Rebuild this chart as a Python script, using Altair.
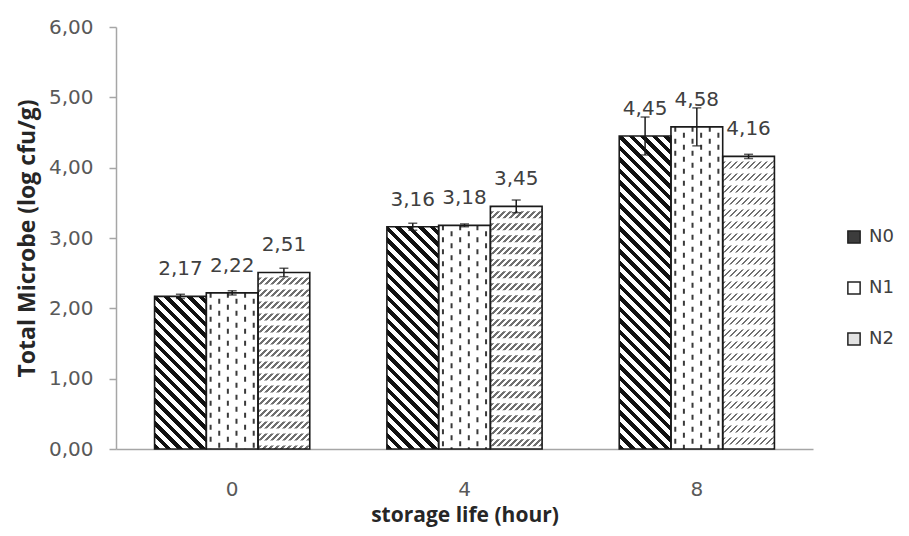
import altair as alt
import pandas as pd

# ---------------- data ----------------
times = ["0", "4", "8"]
series = ["N0", "N1", "N2"]
mean_N0 = [2.17, 3.16, 4.45]
mean_N1 = [2.22, 3.18, 4.58]
mean_N2 = [2.51, 3.45, 4.16]
err_N0 = [0.03, 0.05, 0.27]
err_N1 = [0.03, 0.02, 0.27]
err_N2 = [0.06, 0.09, 0.03]
y_ticks = [0, 1, 2, 3, 4, 5, 6]

rows = []
for s, m, e in [("N0", mean_N0, err_N0), ("N1", mean_N1, err_N1), ("N2", mean_N2, err_N2)]:
    for t, v, ee in zip(times, m, e):
        rows.append({"time": t, "series": s, "value": v, "err": ee})
df = pd.DataFrame(rows)

# ---------------- layout / style ----------------
W, H = 697, 422
Y_MAX = 6
P_INNER = 0.332
band = (W / len(times)) * (1 - P_INNER)
bar_w = band / len(series)

X = alt.X("time:N", sort=times,
          scale=alt.Scale(domain=times, paddingInner=P_INNER, paddingOuter=P_INNER / 2),
          axis=alt.Axis(labelAngle=0, ticks=False, domainColor="#a6a6a6", domainWidth=1.5,
                        labelFontSize=20, labelFont="DejaVu Sans", labelColor="#595959",
                        labelPadding=30, title="storage life (hour)", titleFont="Open Sans",
                        titleFontWeight="bold", titleFontSize=21, titleColor="#262626",
                        titlePadding=5))
XO = alt.XOffset("series:N", sort=series, scale=alt.Scale(domain=series, paddingInner=0, paddingOuter=0))
Y = alt.Y("value:Q", scale=alt.Scale(domain=[0, Y_MAX], nice=False),
          axis=alt.Axis(values=y_ticks, format=".2f", grid=False, domainColor="#a6a6a6",
                        domainWidth=1.5, tickColor="#a6a6a6", tickSize=7, tickWidth=1.5,
                        labelFontSize=20, labelFont="DejaVu Sans", labelColor="#595959",
                        labelPadding=16, title="Total Microbe  (log cfu/g)", titleFont="Open Sans",
                        titleFontWeight="bold", titleFontSize=23, titleColor="#262626",
                        titlePadding=9))

base = alt.Chart(df)


def stripe_gradient(value, period, frac, dark, light, direction):
    h = value / Y_MAX * H
    w = bar_w
    s = (w + h) / (w * w + h * h)
    n = (w + h) / period
    stops = []
    k = 0
    while k / n < 1:
        a = k / n
        b = min((k + frac) / n, 1.0)
        c = min((k + 1) / n, 1.0)
        stops += [{"offset": a, "color": dark}, {"offset": b, "color": dark},
                  {"offset": b, "color": light}, {"offset": c, "color": light}]
        k += 1
    if direction == "back":  # "\" stripes
        return {"gradient": "linear", "x1": 0, "y1": 1, "x2": s * w, "y2": 1 - s * h, "stops": stops}
    return {"gradient": "linear", "x1": 0, "y1": 0, "x2": s * w, "y2": s * h, "stops": stops}


# base bars (carry the legend)
layers = [
    base.mark_bar(strokeWidth=0).encode(
        x=X, xOffset=XO, y=Y,
        fill=alt.Fill("series:N", sort=series,
                      scale=alt.Scale(domain=series, range=["#3c3c3c", "#ffffff", "#e2e2e2"]),
                      legend=alt.Legend(title=None, orient="none", legendX=729, legendY=201,
                                        symbolType="square", symbolSize=150,
                                        symbolStrokeColor="#222222", symbolStrokeWidth=1.5,
                                        labelFontSize=18, labelFont="DejaVu Sans",
                                        labelColor="#404040", rowPadding=31, labelOffset=6,
                                        padding=0)))
]

# N0 diagonal stripes and N2 slashes (per bar, gradient fills)
for s, means, period, frac, dark, direction in [
    ("N0", mean_N0, 11.5, 0.48, "#111111", "back"),
    ("N2", mean_N2, 6.0, 0.42, "#707070", "fwd"),
]:
    for t, v in zip(times, means):
        layers.append(
            base.transform_filter((alt.datum.series == s) & (alt.datum.time == t))
            .mark_bar(strokeWidth=0)
            .encode(x=X, xOffset=XO, y=Y,
                    fill=alt.value(stripe_gradient(v, period, frac, dark, "#ffffff", direction)))
        )

# N2 white row gaps
layers.append(
    base.transform_filter(alt.datum.series == "N2")
    .mark_rule(color="#ffffff", strokeWidth=bar_w - 2, strokeDash=[5, 7], strokeCap="butt")
    .encode(x=alt.X("time:N", sort=times, bandPosition=5 / 6), y=Y, y2=alt.datum(0))
)

# N1 staggered vertical dashes
n_cols = 6
for j in range(n_cols):
    bp = 1 / 3 + (j + 0.5) / n_cols / 3
    layers.append(
        base.transform_filter(alt.datum.series == "N1")
        .mark_rule(color="#3a3a3a", strokeWidth=2, strokeDash=[5, 7],
                   strokeDashOffset=(0 if j % 2 == 0 else 6), strokeCap="butt")
        .encode(x=alt.X("time:N", sort=times, bandPosition=bp), y=Y, y2=alt.datum(0))
    )

# outlines
layers.append(
    base.mark_bar(fillOpacity=0, stroke="#1a1a1a", strokeWidth=1.6).encode(x=X, xOffset=XO, y=Y)
)

# error bars
err_base = base.transform_calculate(lo="datum.value - datum.err", hi="datum.value + datum.err")
layers.append(
    err_base.mark_rule(color="#1a1a1a", strokeWidth=1.5).encode(
        x=X, xOffset=XO, y=alt.Y("lo:Q"), y2=alt.Y2("hi:Q"))
)
for f in ["lo", "hi"]:
    layers.append(
        err_base.mark_tick(color="#1a1a1a", orient="horizontal", size=9, thickness=1.5).encode(
            x=X, xOffset=XO, y=alt.Y(f + ":Q"))
    )

# value labels
layers.append(
    base.mark_text(dy=-27, fontSize=20, font="DejaVu Sans", color="#404040", baseline="middle").encode(
        x=X, xOffset=XO, y=Y, text=alt.Text("value:Q", format=".2f"))
)

chart = alt.layer(*layers).properties(
    width=W, height=H,
    autosize=alt.AutoSizeParams(type="none"),
    padding={"left": 108, "top": 19, "right": 88, "bottom": 79},
).configure(
    locale=alt.Locale(number=alt.NumberLocale(decimal=",", thousands=".", grouping=[3],
                                              currency=["", ""]))
).configure_view(stroke=None)

chart.save("out.html", embed_options={"renderer": "svg", "actions": False})
